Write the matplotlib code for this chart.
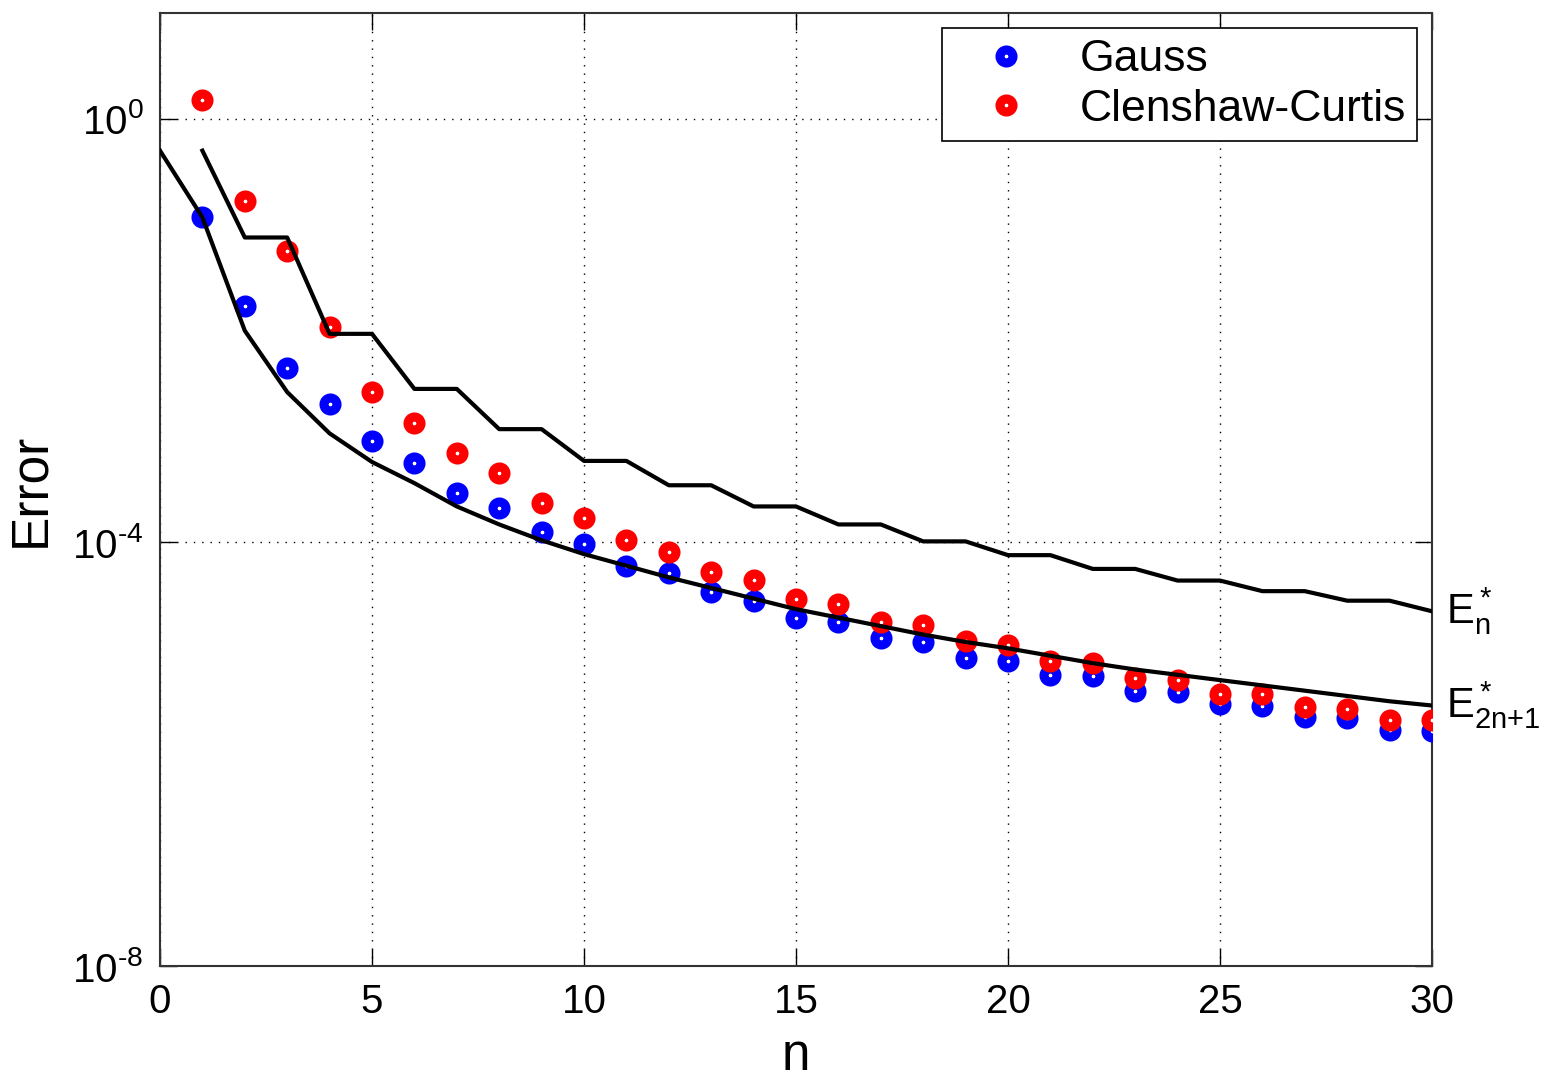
import numpy as np
import matplotlib
matplotlib.use("Agg")
import matplotlib.pyplot as plt
from matplotlib.ticker import NullLocator

plt.rcParams['font.family'] = ['Liberation Sans', 'DejaVu Sans']
plt.rcParams['mathtext.fontset'] = 'custom'
plt.rcParams['mathtext.rm'] = 'Liberation Sans'
plt.rcParams['mathtext.it'] = 'Liberation Sans'
plt.rcParams['mathtext.default'] = 'regular'

# datos (log10 del error)
n_pts = np.arange(1, 31)
gauss_log = [-0.93, -1.77, -2.35, -2.69, -3.04, -3.25, -3.53, -3.67, -3.90, -4.01,
             -4.22, -4.29, -4.47, -4.55, -4.71, -4.75, -4.90, -4.94, -5.09, -5.12,
             -5.25, -5.26, -5.40, -5.41, -5.53, -5.54, -5.65, -5.66, -5.77, -5.78]
cc_log = [0.18, -0.78, -1.25, -1.97, -2.58, -2.87, -3.16, -3.34, -3.63, -3.77,
          -3.98, -4.09, -4.28, -4.35, -4.53, -4.58, -4.75, -4.78, -4.93, -4.97,
          -5.12, -5.14, -5.28, -5.30, -5.43, -5.43, -5.55, -5.57, -5.68, -5.68]

# mejor aproximacion E*_n (n = 1..30)
en_x = np.arange(1, 31)
en_log = [-0.30, -1.12, -1.12, -2.03, -2.03, -2.55, -2.55, -2.93, -2.93, -3.23,
          -3.23, -3.46, -3.46, -3.66, -3.66, -3.83, -3.83, -3.99, -3.99, -4.12,
          -4.12, -4.25, -4.25, -4.36, -4.36, -4.46, -4.46, -4.55, -4.55, -4.65]

# E*_{2n+1} (n = 0..30)
e2_x = np.arange(0, 31)
e2_log = [-0.30, -0.93, -2.00, -2.58, -2.97, -3.24, -3.44, -3.66, -3.83, -3.98,
          -4.11, -4.22, -4.33, -4.43, -4.53, -4.63, -4.71, -4.79, -4.87, -4.94,
          -5.00, -5.07, -5.14, -5.20, -5.25, -5.30, -5.35, -5.40, -5.45, -5.50,
          -5.54]

ytick_vals = [1e-8, 1e-4, 1e0]
ytick_labels = ['$10^{\u20108}$', '$10^{\u20104}$', '$10^{0}$']
xtick_vals = [0, 5, 10, 15, 20, 25, 30]

fig = plt.figure(figsize=(15.62, 10.87), dpi=100)
ax = fig.add_axes([160/1562, 1 - 966/1087, 1272/1562, 953/1087])

ax.semilogy(n_pts, 10**np.array(gauss_log), 'o', color='blue', markersize=9.4,
            markerfacecolor='white', markeredgecolor='blue', markeredgewidth=6.5,
            label='Gauss', zorder=3)
ax.semilogy(n_pts, 10**np.array(cc_log), 'o', color='red', markersize=9.4,
            markerfacecolor='white', markeredgecolor='red', markeredgewidth=6.5,
            label='Clenshaw-Curtis', zorder=4)
ax.semilogy(en_x, 10**np.array(en_log), '-', color='black', linewidth=3, zorder=5)
ax.semilogy(e2_x, 10**np.array(e2_log), '-', color='black', linewidth=3, zorder=5)

ax.set_xlim(0, 30)
ax.set_ylim(1e-8, 1e1)
ax.set_xticks(xtick_vals)
ax.set_yticks(ytick_vals)
ax.set_yticklabels(ytick_labels)
ax.yaxis.set_minor_locator(NullLocator())
ax.tick_params(direction='in', top=True, right=True, length=12, width=1,
               labelsize=29, pad=12)
ax.grid(True, which='major', linestyle=(0, (1, 5)), color='black', linewidth=1)
for s in ax.spines.values():
    s.set_linewidth(1.5)
    s.set_color('#333333')

ax.set_xlabel('n', fontsize=37, labelpad=8)
ax.set_ylabel('Error', fontsize=37, labelpad=12)

ax.annotate(r'$E_n^*$', xy=(30, 10**en_log[-1]), xytext=(10, 0),
            textcoords='offset points', fontsize=30, va='center', ha='left',
            annotation_clip=False)
ax.annotate(r'$E_{2n{+}1}^*$', xy=(30, 10**e2_log[-1]), xytext=(10, 0),
            textcoords='offset points', fontsize=30, va='center', ha='left',
            annotation_clip=False)

leg = ax.legend(loc='upper right', bbox_to_anchor=(0.9882, 0.9843), borderaxespad=0,
                fontsize=32, numpoints=1, fancybox=False, framealpha=1,
                edgecolor='black', handlelength=2.4, handletextpad=0.45,
                labelspacing=0.2, borderpad=0.25)
leg.get_frame().set_linewidth(1.2)

fig.savefig('out.png', dpi=100)
